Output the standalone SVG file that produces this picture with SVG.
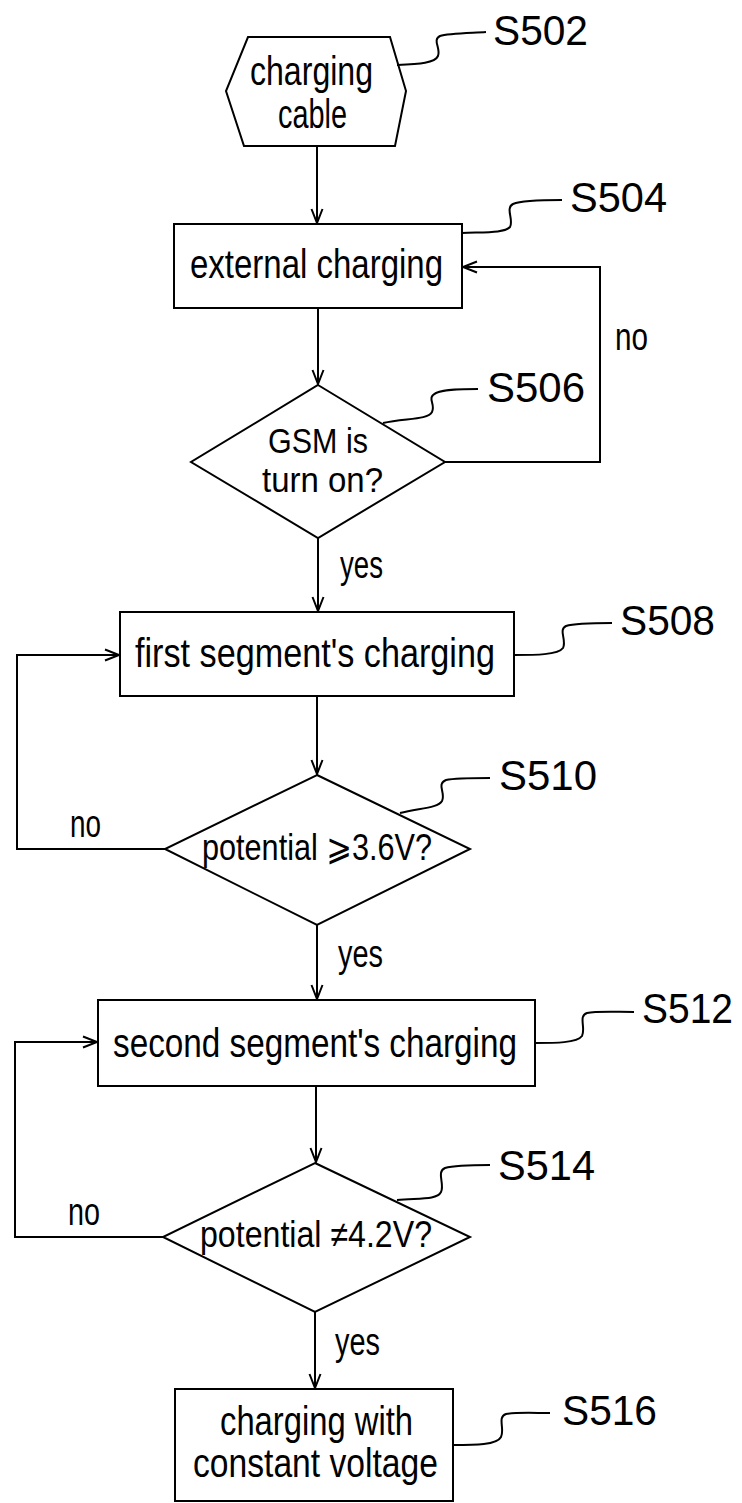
<svg xmlns="http://www.w3.org/2000/svg" width="742" height="1503" viewBox="0 0 742 1503">
<style>
text{font-family:"Liberation Sans Narrow","Liberation Sans","DejaVu Sans",sans-serif;fill:#000}
.n{font-size:40px}
.d{font-size:35px}
.p{font-size:37px}
.lbl{font-size:42px}
.yn{font-size:38px}
.shape{fill:#fff;stroke:#000;stroke-width:2}
.conn{fill:none;stroke:#000;stroke-width:2}
.lead{fill:none;stroke:#000;stroke-width:2}
</style>
<defs>
<marker id="arr" markerUnits="userSpaceOnUse" markerWidth="20" markerHeight="20" refX="15" refY="6" orient="auto" viewBox="0 0 20 12">
<path d="M1,0.5 L15,6 L1,11.5" fill="none" stroke="#000" stroke-width="2"/>
</marker>
</defs>
<g id="connectors">
<path class="conn" d="M317,146 L317,223" marker-end="url(#arr)"/>
<path class="conn" d="M318,308 L318,384" marker-end="url(#arr)"/>
<path class="conn" d="M445,462 L600,462 L600,267 L463,267" marker-end="url(#arr)"/>
<path class="conn" d="M318,538 L318,611" marker-end="url(#arr)"/>
<path class="conn" d="M317,696 L317,774" marker-end="url(#arr)"/>
<path class="conn" d="M165,849 L17,849 L17,655 L119,655" marker-end="url(#arr)"/>
<path class="conn" d="M317,925 L317,999" marker-end="url(#arr)"/>
<path class="conn" d="M316,1086 L316,1162" marker-end="url(#arr)"/>
<path class="conn" d="M163,1237 L15,1237 L15,1042 L97,1042" marker-end="url(#arr)"/>
<path class="conn" d="M315,1312 L315,1388" marker-end="url(#arr)"/>
<text class="yn" x="615" y="350" textLength="33" lengthAdjust="spacingAndGlyphs">no</text>
<text class="yn" x="340" y="578" textLength="43" lengthAdjust="spacingAndGlyphs">yes</text>
<text class="yn" x="70" y="837" textLength="31" lengthAdjust="spacingAndGlyphs">no</text>
<text class="yn" x="338" y="967" textLength="45" lengthAdjust="spacingAndGlyphs">yes</text>
<text class="yn" x="68" y="1225" textLength="32" lengthAdjust="spacingAndGlyphs">no</text>
<text class="yn" x="335" y="1355" textLength="45" lengthAdjust="spacingAndGlyphs">yes</text>
</g>
<g id="S502">
<polygon class="shape" points="248,37 390,37 406,91 395,146 244,146 226,91"/>
<text class="n" x="250" y="85" textLength="123" lengthAdjust="spacingAndGlyphs">charging</text>
<text class="n" x="278" y="128" textLength="69" lengthAdjust="spacingAndGlyphs">cable</text>
<path class="lead" d="M397,65 C420,64 435,63 438,56 C441,48 432,40 440,36 C448,33 470,33 486,32"/>
<text class="lbl" x="493" y="45" textLength="95" lengthAdjust="spacingAndGlyphs">S502</text>
</g>
<g id="S504">
<rect class="shape" x="174" y="224" width="288" height="84"/>
<text class="n" x="190" y="278" textLength="253" lengthAdjust="spacingAndGlyphs">external charging</text>
<path class="lead" d="M462,233 C485,232 505,233 510,227 C514,220 505,208 513,204 C520,201 540,200 562,200"/>
<text class="lbl" x="570" y="212" textLength="97" lengthAdjust="spacingAndGlyphs">S504</text>
</g>
<g id="S506">
<polygon class="shape" points="318,385 445,462 318,538 191,462"/>
<text class="d" x="268" y="453" textLength="100" lengthAdjust="spacingAndGlyphs">GSM is</text>
<text class="d" x="262" y="492" textLength="121" lengthAdjust="spacingAndGlyphs">turn on?</text>
<path class="lead" d="M383,423 C405,418 428,420 432,412 C436,404 426,398 436,393 C445,389 462,389 478,389"/>
<text class="lbl" x="487" y="402" textLength="98" lengthAdjust="spacingAndGlyphs">S506</text>
</g>
<g id="S508">
<rect class="shape" x="120" y="612" width="394" height="84"/>
<text class="n" x="135" y="667" textLength="360" lengthAdjust="spacingAndGlyphs">first segment's charging</text>
<path class="lead" d="M514,655 C535,655 558,655 563,648 C567,640 558,630 566,626 C575,623 595,623 612,623"/>
<text class="lbl" x="620" y="635" textLength="95" lengthAdjust="spacingAndGlyphs">S508</text>
</g>
<g id="S510">
<polygon class="shape" points="317,775 470,849 317,925 165,849"/>
<text class="p" x="202" y="860" textLength="230" lengthAdjust="spacingAndGlyphs">potential ⩾3.6V?</text>
<path class="lead" d="M400,813 C420,808 438,808 442,801 C446,793 436,784 446,780 C455,778 475,778 490,778"/>
<text class="lbl" x="499" y="790" textLength="98" lengthAdjust="spacingAndGlyphs">S510</text>
</g>
<g id="S512">
<rect class="shape" x="98" y="1000" width="437" height="86"/>
<text class="n" x="113" y="1057" textLength="404" lengthAdjust="spacingAndGlyphs">second segment's charging</text>
<path class="lead" d="M535,1043 C555,1043 577,1043 582,1036 C586,1028 578,1016 587,1013 C596,1011 615,1012 634,1012"/>
<text class="lbl" x="642" y="1023" textLength="91" lengthAdjust="spacingAndGlyphs">S512</text>
</g>
<g id="S514">
<polygon class="shape" points="315,1163 470,1237 315,1312 163,1237"/>
<text class="p" x="200" y="1247" textLength="232" lengthAdjust="spacingAndGlyphs">potential ≠4.2V?</text>
<path class="lead" d="M397,1200 C420,1198 437,1200 441,1192 C445,1184 436,1172 445,1168 C455,1165 475,1165 490,1165"/>
<text class="lbl" x="498" y="1180" textLength="97" lengthAdjust="spacingAndGlyphs">S514</text>
</g>
<g id="S516">
<rect class="shape" x="175" y="1389" width="278" height="112"/>
<text class="n" x="220" y="1435" textLength="193" lengthAdjust="spacingAndGlyphs">charging with</text>
<text class="n" x="193" y="1477" textLength="245" lengthAdjust="spacingAndGlyphs">constant voltage</text>
<path class="lead" d="M453,1445 C475,1445 497,1445 501,1437 C505,1429 497,1417 506,1414 C515,1412 535,1413 550,1413"/>
<text class="lbl" x="562" y="1425" textLength="95" lengthAdjust="spacingAndGlyphs">S516</text>
</g>
</svg>
